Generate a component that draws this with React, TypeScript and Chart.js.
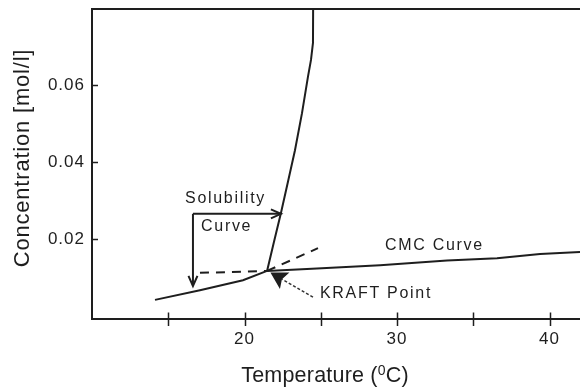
import React, { useEffect, useRef } from 'react';
import { Chart, registerables } from 'chart.js';

Chart.register(...registerables);

// ---- data (temperature in °C, concentration in mol/l) ----
const solubilityLowT = [14.13, 17.08, 19.9, 21.48];
const solubilityLowC = [0.0043, 0.0068, 0.0094, 0.0118];
const solubilityHighT = [21.48, 21.93, 22.39, 22.85, 23.31, 23.77, 24.16, 24.36, 24.49, 24.5];
const solubilityHighC = [0.0118, 0.0193, 0.0268, 0.0349, 0.0431, 0.0527, 0.0621, 0.0665, 0.0709, 0.0797];
const cmcT = [21.48, 24.75, 28.89, 33.28, 36.56, 39.38, 42.0];
const cmcC = [0.0118, 0.0124, 0.0133, 0.0145, 0.0151, 0.0162, 0.0167];
const cmcExtT = [17.08, 21.48];
const cmcExtC = [0.0113, 0.0118];
const solExtT = [21.48, 24.82];
const solExtC = [0.0118, 0.0177];

const xTickLabels = [20, 30, 40];
const xTickMarks = [15, 20, 25, 30, 35, 40];
const yTickLabels = [0.02, 0.04, 0.06];

// annotation anchors in data coordinates
const arrowFromT = [16.62, 16.62, 24.49];
const arrowFromC = [0.0266, 0.0266, 0.005];
const arrowToT = [22.39, 16.62, 21.7];
const arrowToC = [0.0266, 0.0079, 0.0114];
const arrowKinds = ['open', 'open', 'filled'];

const noteTexts = ['Solubility', 'Curve', 'CMC Curve', 'KRAFT Point'];
const noteT = [16.1, 17.15, 29.21, 24.95];
const noteC = [0.0294, 0.0222, 0.0172, 0.0048];

const INK = '#1e1e1e';
const FONT = '"Liberation Sans", Arial, Helvetica, sans-serif';

const pts = (xs: number[], ys: number[]) => xs.map((x, i) => ({ x, y: ys[i] }));

function drawArrow(ctx: CanvasRenderingContext2D, x1: number, y1: number, x2: number, y2: number, kind: string) {
  const ang = Math.atan2(y2 - y1, x2 - x1);
  ctx.save();
  ctx.strokeStyle = INK;
  ctx.fillStyle = INK;
  if (kind === 'filled') {
    const len = 19;
    const half = 0.52;
    const bx = x2 - Math.cos(ang) * len * 0.7;
    const by = y2 - Math.sin(ang) * len * 0.7;
    ctx.lineWidth = 1.5;
    ctx.strokeStyle = '#333';
    ctx.setLineDash([3, 2]);
    ctx.beginPath();
    ctx.moveTo(x1, y1);
    ctx.lineTo(bx, by);
    ctx.stroke();
    ctx.setLineDash([]);
    ctx.beginPath();
    ctx.moveTo(x2, y2);
    ctx.lineTo(x2 - Math.cos(ang - half) * len, y2 - Math.sin(ang - half) * len);
    ctx.lineTo(bx, by);
    ctx.lineTo(x2 - Math.cos(ang + half) * len, y2 - Math.sin(ang + half) * len);
    ctx.closePath();
    ctx.fill();
  } else {
    const len = 11;
    const half = 0.42;
    ctx.lineWidth = 2;
    ctx.beginPath();
    ctx.moveTo(x1, y1);
    ctx.lineTo(x2, y2);
    ctx.stroke();
    ctx.beginPath();
    ctx.moveTo(x2 - Math.cos(ang - half) * len, y2 - Math.sin(ang - half) * len);
    ctx.lineTo(x2, y2);
    ctx.lineTo(x2 - Math.cos(ang + half) * len, y2 - Math.sin(ang + half) * len);
    ctx.stroke();
  }
  ctx.restore();
}

const decorPlugin = {
  id: 'decor',
  beforeDraw(chart: any) {
    (chart.ctx as any).letterSpacing = '1px';
  },
  afterDraw(chart: any) {
    const ctx: CanvasRenderingContext2D = chart.ctx;
    const xs = chart.scales.x;
    const ys = chart.scales.y;
    const area = chart.chartArea;
    ctx.save();
    (ctx as any).letterSpacing = '0px';
    ctx.strokeStyle = INK;
    ctx.lineWidth = 2;
    // top frame line
    ctx.beginPath();
    ctx.moveTo(area.left - 1, area.top);
    ctx.lineTo(area.right, area.top);
    ctx.stroke();
    // x tick marks (crossing the axis)
    ctx.lineWidth = 1.5;
    xTickMarks.forEach((v) => {
      const px = Math.round(xs.getPixelForValue(v)) + 0.5;
      ctx.beginPath();
      ctx.moveTo(px, area.bottom - 6.5);
      ctx.lineTo(px, area.bottom + 7);
      ctx.stroke();
    });
    // y tick marks (inside)
    yTickLabels.forEach((v) => {
      const py = Math.round(ys.getPixelForValue(v)) + 0.5;
      ctx.beginPath();
      ctx.moveTo(area.left, py);
      ctx.lineTo(area.left + 6, py);
      ctx.stroke();
    });
    // arrows
    arrowFromT.forEach((t, i) => {
      drawArrow(
        ctx,
        xs.getPixelForValue(t),
        ys.getPixelForValue(arrowFromC[i]),
        xs.getPixelForValue(arrowToT[i]),
        ys.getPixelForValue(arrowToC[i]),
        arrowKinds[i]
      );
    });
    // notes
    ctx.fillStyle = INK;
    ctx.font = `16px ${FONT}`;
    ctx.textAlign = 'left';
    ctx.textBaseline = 'alphabetic';
    (ctx as any).letterSpacing = '1.7px';
    noteTexts.forEach((txt, i) => {
      ctx.fillText(txt, xs.getPixelForValue(noteT[i]), ys.getPixelForValue(noteC[i]));
    });
    // y axis title
    ctx.save();
    ctx.translate(22.5, 158);
    ctx.rotate(-Math.PI / 2);
    ctx.font = `22px ${FONT}`;
    (ctx as any).letterSpacing = '0.8px';
    ctx.textAlign = 'center';
    ctx.textBaseline = 'middle';
    ctx.fillText('Concentration [mol/l]', 0, 0);
    ctx.restore();
    // x axis title with superscript
    (ctx as any).letterSpacing = '0.2px';
    const mainFont = `21.5px ${FONT}`;
    const supFont = `14px ${FONT}`;
    const p1 = 'Temperature (';
    const p2 = '0';
    const p3 = 'C)';
    ctx.font = mainFont;
    const w1 = ctx.measureText(p1).width;
    const w3 = ctx.measureText(p3).width;
    ctx.font = supFont;
    const w2 = ctx.measureText(p2).width;
    const total = w1 + w2 + w3;
    const cx = (area.left + area.right) / 2 - 11;
    let x0 = cx - total / 2;
    const base = 381.5;
    ctx.textAlign = 'left';
    ctx.font = mainFont;
    ctx.fillText(p1, x0, base);
    x0 += w1;
    ctx.font = supFont;
    ctx.fillText(p2, x0, base - 7);
    x0 += w2;
    ctx.font = mainFont;
    ctx.fillText(p3, x0, base);
    ctx.restore();
  },
};

export default function App() {
  const ref = useRef<HTMLCanvasElement | null>(null);

  useEffect(() => {
    if (!ref.current) return;
    const line = (data: any[], dashed = false) => ({
      data,
      showLine: true,
      borderColor: INK,
      backgroundColor: INK,
      borderWidth: 2,
      borderDash: dashed ? [9, 7] : [],
      pointRadius: 0,
      tension: 0,
      fill: false,
    });
    const chart = new Chart(ref.current, {
      type: 'scatter',
      data: {
        datasets: [
          line(pts(solubilityLowT, solubilityLowC)),
          line(pts(solubilityHighT, solubilityHighC)),
          line(pts(cmcT, cmcC)),
          line(pts(cmcExtT, cmcExtC), true),
          line(pts(solExtT, solExtC), true),
        ],
      },
      options: {
        responsive: false,
        animation: false,
        events: [],
        layout: { padding: { top: 9, left: 0, right: 0, bottom: 0 } },
        plugins: { legend: { display: false }, tooltip: { enabled: false }, title: { display: false } },
        scales: {
          x: {
            type: 'linear',
            min: 10,
            max: 42,
            grid: { display: false, drawTicks: false },
            border: { display: true, color: INK, width: 2 },
            ticks: {
              color: INK,
              font: { family: FONT, size: 17 },
              padding: 10,
              maxRotation: 0,
              autoSkip: false,
              callback: (v: any) => String(v),
            },
            afterBuildTicks: (s: any) => {
              s.ticks = xTickLabels.map((v) => ({ value: v }));
            },
            afterFit: (s: any) => {
              s.height = 68;
              s.paddingLeft = 0;
              s.paddingRight = 0;
            },
          },
          y: {
            type: 'linear',
            min: -0.00066,
            max: 0.0797,
            grid: { display: false, drawTicks: false },
            border: { display: true, color: INK, width: 2 },
            ticks: {
              color: INK,
              font: { family: FONT, size: 17 },
              padding: 7,
              autoSkip: false,
              callback: (v: any) => Number(v).toFixed(2),
            },
            afterBuildTicks: (s: any) => {
              s.ticks = yTickLabels.map((v) => ({ value: v }));
            },
            afterFit: (s: any) => {
              s.width = 92;
              s.paddingTop = 0;
              s.paddingBottom = 0;
            },
          },
        },
      } as any,
      plugins: [decorPlugin],
    });
    return () => chart.destroy();
  }, []);

  return (
    <div style={{ position: 'fixed', left: 0, top: 0, width: 580, height: 387, background: '#fff' }}>
      <canvas ref={ref} width={580} height={387} style={{ display: 'block' }} />
    </div>
  );
}
